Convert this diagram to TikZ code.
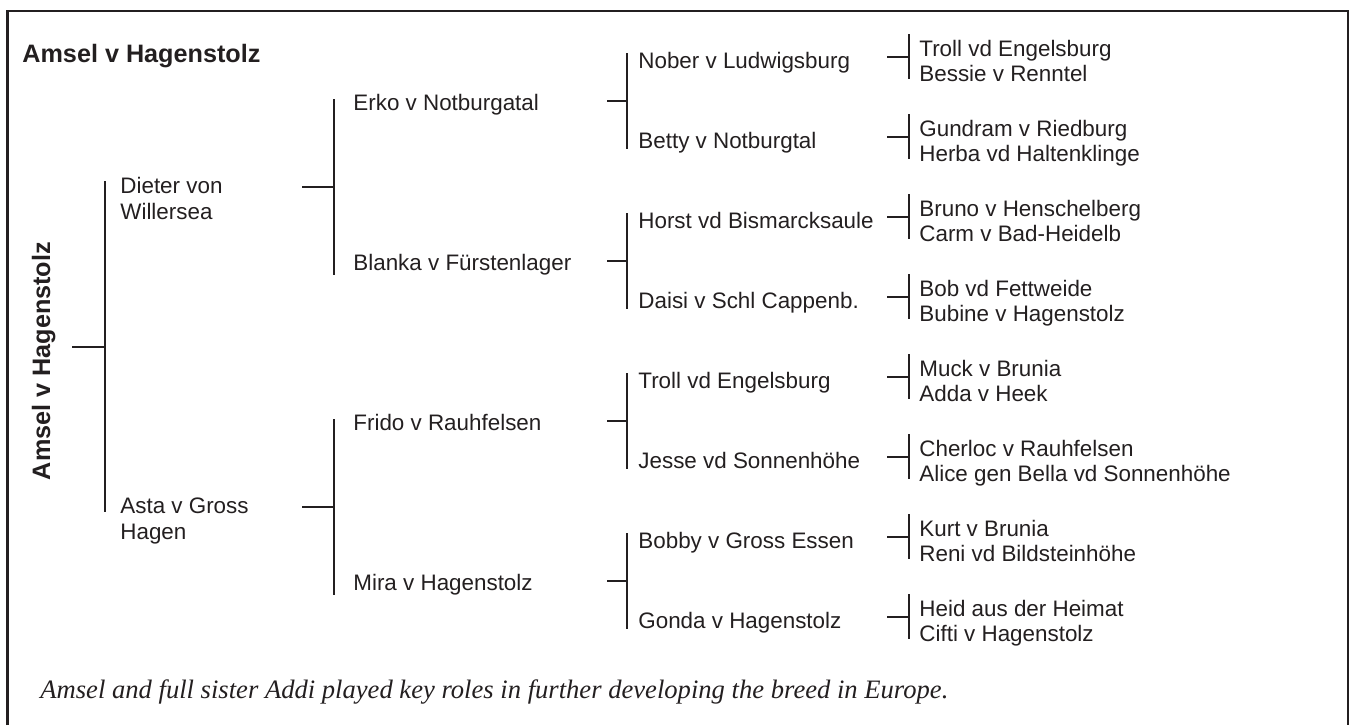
\documentclass[tikz,border=0pt]{standalone}
\usepackage{fontspec}
\setmainfont{Liberation Sans}
\newfontfamily\notefont{Liberation Serif}
\usetikzlibrary{calc}
\definecolor{ink}{HTML}{231F20}
\tikzset{x=0.5pt, y=-0.5pt,
         dog/.style={anchor=base west, inner sep=0pt, text=ink,
                     font=\fontsize{11.2}{13}\selectfont},
         bold name/.style={inner sep=0pt, text=ink,
                     font=\fontsize{12.6}{15}\selectfont\bfseries},
         line/.style={draw=ink, line width=1pt},
         frame/.style={draw=ink, line width=1.4pt},
         }

\begin{document}
\begin{tikzpicture}
    \useasboundingbox (0,0) rectangle (1351,725);
    \draw[frame] (7.5,725) -- (7.5,11) -- (1348,11) -- (1348,725);

    \node[bold name, anchor=base west] (title) at (22,62) {Amsel v Hagenstolz};
    \node[bold name, anchor=base, rotate=90] (amsel) at (50,361) {Amsel v Hagenstolz};

    % parents (base = last line)
    \node[dog, align=left] (dieter) at (120,219) {Dieter von\\Willersea};
    \node[dog, align=left] (asta)   at (120,539) {Asta v Gross\\Hagen};

    % grandparents
    \node[dog] (erko)   at (353,110) {Erko v Notburgatal};
    \node[dog] (blanka) at (353,270) {Blanka v Fürstenlager};
    \node[dog] (frido)  at (353,430) {Frido v Rauhfelsen};
    \node[dog] (mira)   at (353,590) {Mira v Hagenstolz};

    % great-grandparents
    \node[dog] (nober) at (638,68)  {Nober v Ludwigsburg};
    \node[dog] (betty) at (638,148) {Betty v Notburgtal};
    \node[dog] (horst) at (638,228) {Horst vd Bismarcksaule};
    \node[dog] (daisi) at (638,308) {Daisi v Schl Cappenb.};
    \node[dog] (troll) at (638,388) {Troll vd Engelsburg};
    \node[dog] (jesse) at (638,468) {Jesse vd Sonnenhöhe};
    \node[dog] (bobby) at (638,548) {Bobby v Gross Essen};
    \node[dog] (gonda) at (638,628) {Gonda v Hagenstolz};

    % great-great-grandparents
    \node[dog] (trollb)  at (919,56)  {Troll vd Engelsburg};
    \node[dog] (bessie)  at (919,81)  {Bessie v Renntel};
    \node[dog] (gundram) at (919,136) {Gundram v Riedburg};
    \node[dog] (herba)   at (919,161) {Herba vd Haltenklinge};
    \node[dog] (bruno)   at (919,216) {Bruno v Henschelberg};
    \node[dog] (carm)    at (919,241) {Carm v Bad-Heidelb};
    \node[dog] (bob)     at (919,296) {Bob vd Fettweide};
    \node[dog] (bubine)  at (919,321) {Bubine v Hagenstolz};
    \node[dog] (muck)    at (919,376) {Muck v Brunia};
    \node[dog] (adda)    at (919,401) {Adda v Heek};
    \node[dog] (cherloc) at (919,456) {Cherloc v Rauhfelsen};
    \node[dog] (alice)   at (919,481) {Alice gen Bella vd Sonnenhöhe};
    \node[dog] (kurt)    at (919,536) {Kurt v Brunia};
    \node[dog] (reni)    at (919,561) {Reni vd Bildsteinhöhe};
    \node[dog] (heid)    at (919,616) {Heid aus der Heimat};
    \node[dog] (cifti)   at (919,641) {Cifti v Hagenstolz};

    % brackets
    \draw[line] ([shift={(-15,-38)}]dieter.base west) coordinate (bt)
             -- ([shift={(-15,-27)}]asta.base west) coordinate (bb)
                ($(bt)!0.5!(bb)$) -- ++(-33,0);
    \foreach \up/\lo in {erko/blanka, frido/mira}
        \draw[line] ([shift={(-19,-11)}]\up.base west) coordinate (bt)
                 -- ([shift={(-19,5)}]\lo.base west) coordinate (bb)
                    ($(bt)!0.5!(bb)$) -- ++(-32,0);
    \foreach \up/\lo in {nober/betty, horst/daisi, troll/jesse, bobby/gonda}
        \draw[line] ([shift={(-11,-15)}]\up.base west) coordinate (bt)
                 -- ([shift={(-11,1)}]\lo.base west) coordinate (bb)
                    ($(bt)!0.5!(bb)$) -- ++(-20,0);
    \foreach \up/\lo in {trollb/bessie, gundram/herba, bruno/carm, bob/bubine,
                         muck/adda, cherloc/alice, kurt/reni, heid/cifti}
        \draw[line] ([shift={(-10,-22)}]\up.base west) coordinate (bt)
                 -- ([shift={(-10,-2)}]\lo.base west) coordinate (bb)
                    ($(bt)!0.5!(bb)$) -- ++(-22,0);

    \node[anchor=base west, inner sep=0pt, text=ink,
          font=\notefont\itshape\fontsize{13.3}{16}\selectfont] (note) at (40,698)
          {Amsel and full sister Addi played key roles in further developing the breed in Europe.};
\end{tikzpicture}
\end{document}
